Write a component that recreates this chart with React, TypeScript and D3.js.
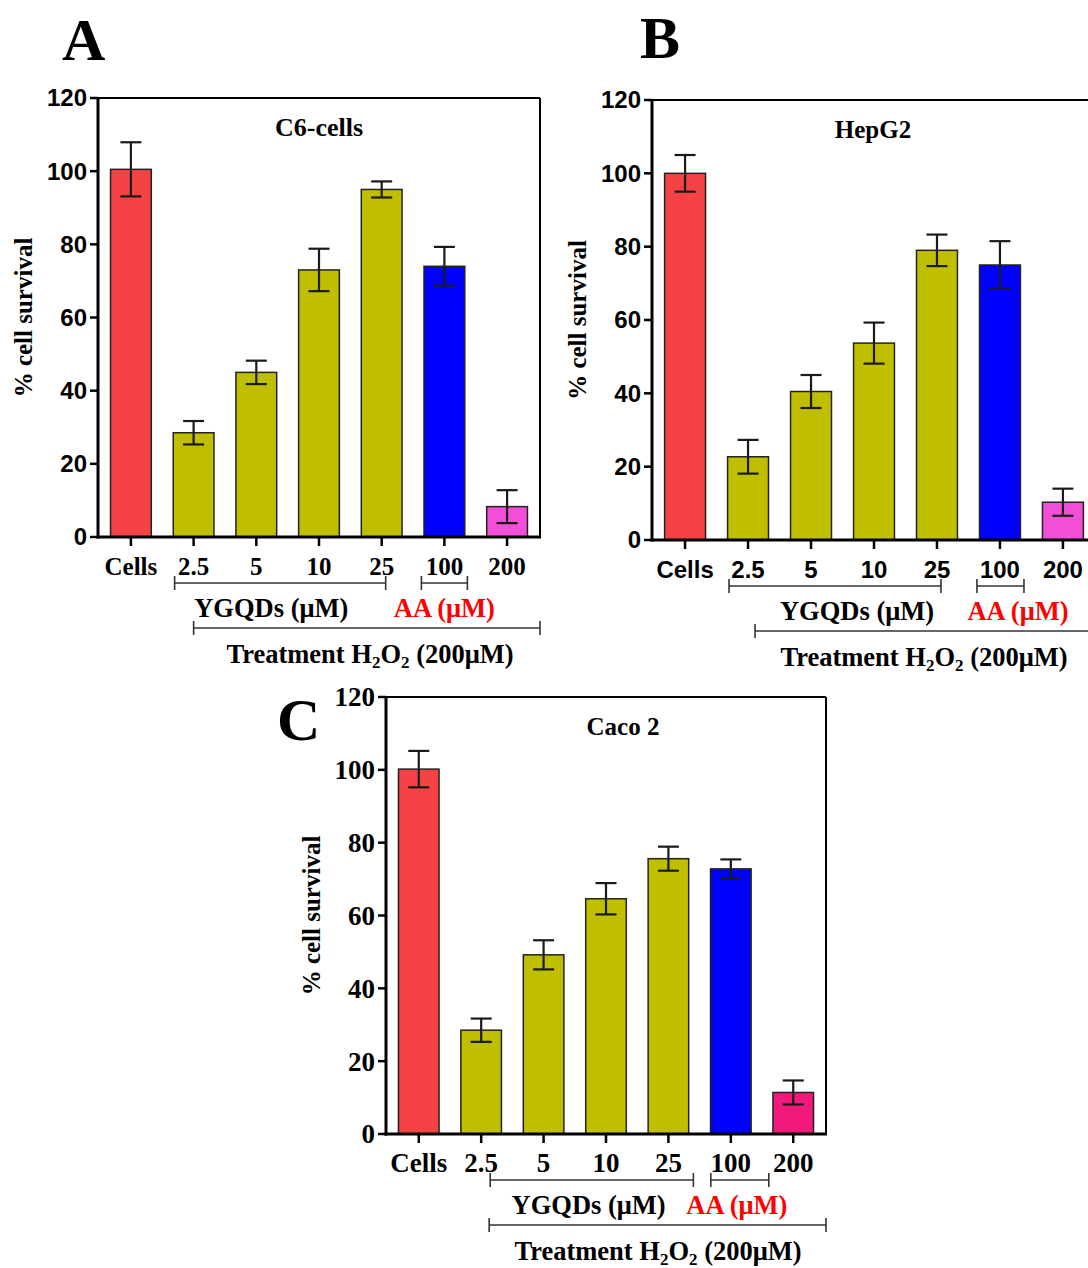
import { scaleBand, scaleLinear } from 'd3';

// x categories and y ticks shared by all three panels
const categories = ['Cells', '2.5', '5', '10', '25', '100', '200'];
const yTicks = [0, 20, 40, 60, 80, 100, 120];

// % cell survival, mean and error
const c6Means = [100.5, 28.5, 45, 73, 95, 74, 8.3];
const c6Errors = [7.4, 3.2, 3.2, 5.8, 2.2, 5.3, 4.5];

const hepg2Means = [100, 22.7, 40.5, 53.7, 79, 75, 10.3];
const hepg2Errors = [5, 4.6, 4.5, 5.6, 4.3, 6.5, 3.7];

const caco2Means = [100.2, 28.5, 49.2, 64.6, 75.6, 72.8, 11.4];
const caco2Errors = [5, 3.2, 4, 4.3, 3.3, 2.6, 3.3];

const SERIF = '"Liberation Serif", "Times New Roman", serif';
const SANS = '"Liberation Sans", Arial, sans-serif';

const RED = '#f54345';
const OLIVE = '#bfbf00';
const BLUE = '#0000ff';

type PanelConfig = {
  letter: string;
  letterX: number;
  letterY: number;
  title: string;
  titleX: number;
  titleSize: number;
  left: number;
  top: number;
  width: number;
  height: number;
  means: number[];
  errors: number[];
  lastColor: string;
  yTickFont: string;
  yTickSize: number;
  xTickFont: string;
  xTickSize: number;
  ygqd: [number, number];
  ygqdLabelDx: number;
  aa: [number, number];
  aaLabelDx: number;
  treatDx: number;
};

const panels: PanelConfig[] = [
  {
    letter: 'A',
    letterX: 62,
    letterY: 60,
    title: 'C6-cells',
    titleX: 319,
    titleSize: 26,
    left: 98,
    top: 98,
    width: 442,
    height: 439,
    means: c6Means,
    errors: c6Errors,
    lastColor: '#f24fd6',
    yTickFont: SANS,
    yTickSize: 24,
    xTickFont: SERIF,
    xTickSize: 25,
    ygqd: [-19, 4],
    ygqdLabelDx: 15,
    aa: [-23, 23],
    aaLabelDx: 0,
    treatDx: 0,
  },
  {
    letter: 'B',
    letterX: 640,
    letterY: 58,
    title: 'HepG2',
    titleX: 873,
    titleSize: 25,
    left: 652,
    top: 100,
    width: 444,
    height: 440,
    means: hepg2Means,
    errors: hepg2Errors,
    lastColor: '#f24fd6',
    yTickFont: SANS,
    yTickSize: 24,
    xTickFont: SANS,
    xTickSize: 24,
    ygqd: [-19, 4],
    ygqdLabelDx: 46,
    aa: [-23, 24],
    aaLabelDx: 18,
    treatDx: 7,
  },
  {
    letter: 'C',
    letterX: 277,
    letterY: 740,
    title: 'Caco 2',
    titleX: 623,
    titleSize: 25,
    left: 386,
    top: 697,
    width: 440,
    height: 437,
    means: caco2Means,
    errors: caco2Errors,
    lastColor: '#f2197c',
    yTickFont: SERIF,
    yTickSize: 27,
    xTickFont: SERIF,
    xTickSize: 27,
    ygqd: [9, 25],
    ygqdLabelDx: 45,
    aa: [-20, 38],
    aaLabelDx: 6,
    treatDx: 8,
  },
];

function Bracket({ x1, x2, y }: { x1: number; x2: number; y: number }) {
  return (
    <g stroke="#333" strokeWidth={1.6}>
      <line x1={x1} x2={x2} y1={y} y2={y} />
      <line x1={x1} x2={x1} y1={y - 7} y2={y + 7} />
      <line x1={x2} x2={x2} y1={y - 7} y2={y + 7} />
    </g>
  );
}

function Panel({ p }: { p: PanelConfig }) {
  const right = p.left + p.width;
  const bottom = p.top + p.height;

  const x = scaleBand<string>()
    .domain(categories)
    .range([p.left, right])
    .paddingInner(0.35)
    .paddingOuter(0.2);
  const y = scaleLinear().domain([0, 120]).range([bottom, p.top]);
  const cx = (c: string) => (x(c) ?? 0) + x.bandwidth() / 2;

  const colors = [RED, OLIVE, OLIVE, OLIVE, OLIVE, BLUE, p.lastColor];
  const capW = 10.5;

  const bY = bottom + 46;
  const tY = bottom + 91;

  return (
    <g>
      <text
        x={p.letterX}
        y={p.letterY}
        fontFamily={SERIF}
        fontWeight="bold"
        fontSize={60}
      >
        {p.letter}
      </text>

      {/* bars */}
      {p.means.map((m, i) => (
        <rect
          key={categories[i]}
          x={x(categories[i])}
          y={y(m)}
          width={x.bandwidth()}
          height={bottom - y(m)}
          fill={colors[i]}
          stroke="#222"
          strokeWidth={1.5}
        />
      ))}

      {/* error bars */}
      <g stroke="#1a1a1a" strokeWidth={2.2}>
        {p.means.map((m, i) => {
          const c = cx(categories[i]);
          const hi = y(m + p.errors[i]);
          const lo = y(m - p.errors[i]);
          return (
            <g key={categories[i]}>
              <line x1={c} x2={c} y1={hi} y2={lo} />
              <line x1={c - capW} x2={c + capW} y1={hi} y2={hi} />
              <line x1={c - capW} x2={c + capW} y1={lo} y2={lo} />
            </g>
          );
        })}
      </g>

      {/* frame */}
      <g fill="none" stroke="#000">
        <line x1={p.left} x2={right} y1={p.top} y2={p.top} strokeWidth={2} />
        <line x1={right} x2={right} y1={p.top} y2={bottom} strokeWidth={2} />
        <line x1={p.left} x2={p.left} y1={p.top - 1} y2={bottom + 1.5} strokeWidth={3} />
        <line x1={p.left - 1.5} x2={right + 1} y1={bottom} y2={bottom} strokeWidth={3} />
      </g>

      {/* y axis */}
      {yTicks.map((t) => (
        <g key={t}>
          <line
            x1={p.left - 8}
            x2={p.left}
            y1={y(t)}
            y2={y(t)}
            stroke="#000"
            strokeWidth={2.5}
          />
          <text
            x={p.left - 11}
            y={y(t)}
            dy="0.35em"
            textAnchor="end"
            fontFamily={p.yTickFont}
            fontWeight="bold"
            fontSize={p.yTickSize}
          >
            {t}
          </text>
        </g>
      ))}

      {/* x axis */}
      {categories.map((c) => (
        <g key={c}>
          <line
            x1={cx(c)}
            x2={cx(c)}
            y1={bottom}
            y2={bottom + 9}
            stroke="#000"
            strokeWidth={2.5}
          />
          <text
            x={cx(c)}
            y={bottom + 38}
            textAnchor="middle"
            fontFamily={p.xTickFont}
            fontWeight="bold"
            fontSize={p.xTickSize}
          >
            {c}
          </text>
        </g>
      ))}

      <text
        transform={`translate(${p.left - 66},${(p.top + bottom) / 2}) rotate(-90)`}
        textAnchor="middle"
        fontFamily={SERIF}
        fontWeight="bold"
        fontSize={25}
      >
        % cell survival
      </text>

      <text
        x={p.titleX}
        y={p.top + 38}
        textAnchor="middle"
        fontFamily={SERIF}
        fontWeight="bold"
        fontSize={p.titleSize}
      >
        {p.title}
      </text>

      {/* group brackets */}
      <Bracket x1={cx('2.5') + p.ygqd[0]} x2={cx('25') + p.ygqd[1]} y={bY} />
      <Bracket x1={cx('100') + p.aa[0]} x2={cx('100') + p.aa[1]} y={bY} />
      <text
        x={cx('5') + p.ygqdLabelDx}
        y={bottom + 80}
        textAnchor="middle"
        fontFamily={SERIF}
        fontWeight="bold"
        fontSize={26.5}
      >
        YGQDs (μM)
      </text>
      <text
        x={cx('100') + p.aaLabelDx}
        y={bottom + 80}
        textAnchor="middle"
        fontFamily={SERIF}
        fontWeight="bold"
        fontSize={26.5}
        fill="#ff0000"
      >
        AA (μM)
      </text>
      <Bracket x1={cx('2.5') + p.treatDx} x2={right} y={tY} />
      <text
        x={p.left + 272}
        y={bottom + 126}
        textAnchor="middle"
        fontFamily={SERIF}
        fontWeight="bold"
        fontSize={26.5}
      >
        Treatment H
        <tspan fontSize={17} dy={5}>2</tspan>
        <tspan dy={-5}>O</tspan>
        <tspan fontSize={17} dy={5}>2</tspan>
        <tspan dy={-5}> (200μM)</tspan>
      </text>
    </g>
  );
}

export default function App() {
  return (
    <svg
      width={1088}
      height={1268}
      style={{ position: 'absolute', left: 0, top: 0, background: '#fff' }}
    >
      <rect width={1088} height={1268} fill="#fff" />
      {panels.map((p) => (
        <Panel key={p.letter} p={p} />
      ))}
    </svg>
  );
}
